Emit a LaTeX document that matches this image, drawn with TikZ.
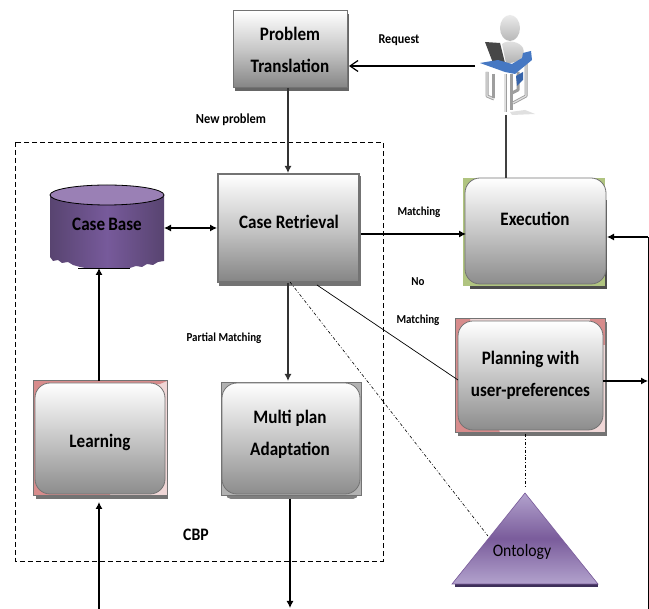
\documentclass[tikz,border=0pt]{standalone}
\usepackage{fontspec}
\setmainfont[FakeStretch=0.9]{Carlito}
\usetikzlibrary{arrows.meta}
\definecolor{cylE}{RGB}{88,68,112}
\definecolor{cylM}{RGB}{119,90,155}
\definecolor{cylT}{RGB}{154,128,181}
\definecolor{green1}{RGB}{176,196,128}
\definecolor{pink1}{RGB}{240,215,215}
\definecolor{rose1}{RGB}{215,140,140}
\definecolor{ondark}{RGB}{62,48,90}
\definecolor{onlight}{RGB}{178,162,205}
\definecolor{onmid}{RGB}{122,92,155}
\definecolor{desk}{RGB}{70,120,195}
\definecolor{deskd}{RGB}{55,100,170}
\tikzset{
  x=1pt,y=-1pt,
  conn/.style={draw=black,line width=1.1pt,-{Latex[length=7pt,width=7pt]}},
  plain/.style={draw=black!75,line width=1.2pt},
  thin conn/.style={draw=black,line width=.7pt},
  dd/.style={draw=black,line width=.6pt,dash pattern=on 3pt off 2pt on .8pt off 2pt},
  boxtext/.style={font=\bfseries\fontsize{19}{32}\selectfont,align=center,text=black},
  lab/.style={font=\bfseries\fontsize{12.2}{14}\selectfont,text=black,inner sep=0pt},
  sq/.style={draw=black!55,line width=1pt,top color=white,bottom color=black!48,middle color=black!22,inner sep=0pt},
  rnd/.style={draw=black!55,line width=.8pt,rounded corners=15pt,top color=white,bottom color=black!45,middle color=black!22,inner sep=0pt},
  legA/.style={draw=black!38,line width=3pt,line join=round},
  legB/.style={draw=black!12,line width=1.2pt,line join=round},
}
\begin{document}
\begin{tikzpicture}
\useasboundingbox (0,0) rectangle (649,609);
\fill[white] (0,0) rectangle (649,609);

% CBP frame
\draw[black,line width=.8pt,dash pattern=on 5pt off 3pt] (15,142) rectangle (383,561);
\node[lab,font=\bfseries\fontsize{17.5}{19}\selectfont] (cbp) at (196,535) {CBP};

% Problem Translation
\fill[black!60] (235,14) rectangle (349,91);
\path[sq] (233,11) rectangle (347,88) node[midway,boxtext] (pt) {Problem\\Translation};

% Case Retrieval
\fill[black!55] (219,176) rectangle (361,286);
\path[sq,line width=1.6pt] (218,174) rectangle (359,282);
\node[boxtext] (cr) at (289,222) {Case Retrieval};

% Case Base
\shade[left color=cylE,right color=cylE,middle color=cylM]
  (50,195) -- (50,257) -- (53,261) -- (58,260) -- (62,263) -- (68,262) -- (73,265) -- (80,267) -- (85,268) -- (130,268) -- (136,266) -- (142,267) -- (147,264) -- (153,265) -- (158,262) -- (164,261) -- (164,195) -- cycle;
\draw[black,line width=.8pt,fill=cylT] (107,195) ellipse [x radius=57,y radius=10];
\draw[black,line width=.7pt] (78,268) -- (130,268);
\node[boxtext,font=\bfseries\fontsize{19}{20}\selectfont] (cb) at (107,224) {Case\,Base};
\coordinate (cbtop) at (99,268);
\coordinate (cbr) at (164,228);

% Execution
\fill[black!70] (470,200) rectangle (607,289);
\fill[green1] (463,178) rectangle (605,286);
\path[rnd] (465,178) rectangle (606,284);
\node[boxtext] (ex) at (535,219) {Execution};

% Planning
\fill[black!55] (458,322) rectangle (607,436);
\fill[pink1] (455,319) rectangle (605,433);
\fill[rose1] (455,319) -- (455,433) -- (500,433) -- (470,319) -- cycle;
\fill[rose1] (590,319) rectangle (605,345);
\draw[black!55,line width=1pt] (455,319) rectangle (605,433);
\path[rnd] (458,321) rectangle (603,430) node[midway,boxtext] (pl) {Planning with\\user-preferences};

% Ontology
\fill[ondark] (455,584) -- (598,584) -- (598,587) -- (455,587) -- cycle;
\shade[top color=onlight,bottom color=onlight,middle color=onmid,draw=onmid,line width=.6pt]
  (525,493) -- (598,584) -- (452,584) -- cycle;
\node[font=\fontsize{17.5}{19}\selectfont,text=black] (on) at (522,552) {Ontology};
\coordinate (ontop) at (525,487);
\coordinate (onleft) at (488,536);

% Learning
\fill[black!55] (36,384) rectangle (168,499);
\fill[pink1] (33,381) rectangle (167,496);
\fill[rose1] (33,381) -- (33,496) -- (110,496) -- (110,490) -- (50,390) -- (160,384) -- (167,381) -- cycle;
\draw[black!55,line width=1pt] (33,381) rectangle (167,496);
\path[rnd] (35,383) rectangle (165,494) node[midway,boxtext,yshift=-4pt] (le) {Learning};

% Multi plan
\path[fill=black!50,rounded corners=5pt] (226,480) rectangle (358,499);
\fill[black!30] (221,382) rectangle (361,495);
\draw[black!55,line width=.8pt] (221,382) rectangle (361,495);
\path[rnd] (222,383) rectangle (360,494) node[midway,boxtext,xshift=-1pt,yshift=4pt] (mp) {Multi plan\\Adaptation};

% user figure
\coordinate (userl) at (475,66);
\coordinate (userb) at (506,115);
\fill[black!12] (510,112) -- (525,110) -- (535,114) -- (512,115) -- cycle;
\draw[legA] (487,72) -- (487,96) -- (494,99);
\draw[legB] (487,72) -- (487,96) -- (494,99);
\draw[legA] (493,74) -- (493,98);
\draw[legA] (505,74) -- (505,112);
\draw[legB] (505,74) -- (505,112);
\draw[legA] (511,74) -- (511,110);
\draw[legA] (526,62) -- (526,96) -- (513,103);
\draw[legB] (526,62) -- (526,96) -- (513,103);
\draw[legA] (518,72) -- (518,90) -- (512,93);
\shade[top color=black!8,bottom color=black!28] (510,28) ellipse [x radius=10,y radius=13];
\fill[black!72] (485,42) -- (500,43) -- (505,63) -- (493,63) -- cycle;
\shade[top color=black!10,bottom color=black!30] (502,44) .. controls (508,39) and (520,42) .. (523,48) .. controls (526,56) and (520,62) .. (510,63) -- (506,63) -- cycle;
\fill[deskd] (516,76) -- (523,72) -- (523,80) -- (517,86) -- cycle;
\fill[desk] (480,63) -- (498,60) -- (512,64) -- (522,58) -- (523,53) -- (531,51) -- (532,60) -- (515,74) -- (505,72) -- cycle;

% connectors
\coordinate (ptb) at (288,88);
\coordinate (ptr) at (349,66);
\coordinate (crt) at (288,173);
\coordinate (crr) at (361,234);
\coordinate (exl) at (466,234);
\coordinate (crb) at (288,283);
\coordinate (mpt) at (288,381);
\coordinate (crl) at (217,228);
\coordinate (crd) at (317,285);
\coordinate (pll) at (458,380);
\coordinate (crdd) at (290,282);
\coordinate (plb) at (525,434);
\coordinate (let) at (99,381);
\coordinate (leb) at (99,502);
\coordinate (ledge) at (99,609);
\coordinate (mpb) at (290,499);
\coordinate (mpe) at (290,608);
\coordinate (plr) at (603,381);
\coordinate (rail) at (648,381);
\coordinate (railb) at (648,609);
\coordinate (railt) at (648,237);
\coordinate (exr) at (607,237);
\coordinate (ext) at (506,178);

\draw[conn,draw=black!80,line width=1.3pt] (ptb) -- (crt);
\draw[draw=black,line width=1.2pt,-{Straight Barb[length=8pt,width=11pt]}] (userl) -- (ptr);
\draw[plain] (userb) -- (ext);
\draw[conn] (crr) -- (exl);
\draw[conn,{Latex[length=7pt,width=7pt]}-{Latex[length=7pt,width=7pt]}] (cbr) -- (crl);
\draw[conn,draw=black!80,line width=1.3pt] (crb) -- (mpt);
\draw[thin conn] (crd) -- (pll);
\draw[dd] (crdd) -- (onleft);
\draw[dd] (plb) -- (ontop);
\draw[conn] (let) -- (cbtop);
\draw[conn] (ledge) -- (leb);
\draw[conn] (mpb) -- (mpe);
\draw[conn] (plr) -- (rail);
\draw[thin conn,line width=1pt] (railb) -- (railt);
\draw[conn] (railt) -- (exr);

% labels
\node[lab,font=\bfseries\fontsize{13.5}{15}\selectfont] (l1) at (399,40) {Request};
\node[lab,font=\bfseries\fontsize{13.8}{15}\selectfont] (l2) at (231,120) {New problem};
\node[lab] (l3) at (419,212) {Matching};
\node[lab] (l4) at (418,282) {No};
\node[lab] (l5) at (418,320) {Matching};
\node[lab] (l6) at (224,338) {Partial Matching};
\end{tikzpicture}
\end{document}
